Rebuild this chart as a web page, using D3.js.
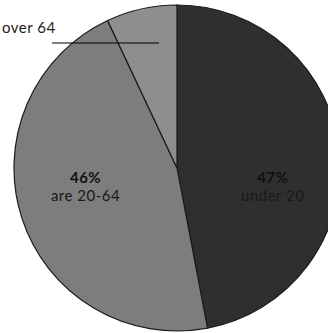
<!DOCTYPE html>
<html>
<head>
<meta charset="utf-8">
<script src="https://cdn.jsdelivr.net/npm/d3@7"></script>
<style>
  body { margin: 0; background: #fff; }
  text { font-family: Lato, "Open Sans", sans-serif; letter-spacing: 0.5px; }
</style>
</head>
<body>
<div id="wrapper"></div>
<script>
// data
const groups = ["under 20", "are 20-64", "over 64"]
const shares = [47, 46, 7]
const fills = ["#2f2f2f", "#7d7d7d", "#8e8e8e"]

const width = 328, height = 333
const cx = 177, cy = 168, radius = 163

const svg = d3.select("#wrapper").append("svg")
  .attr("width", width)
  .attr("height", height)

const pie = d3.pie().sort(null).value(d => d)
const arcs = pie(shares)

const arc = d3.arc().innerRadius(0).outerRadius(radius)
const labelArc = d3.arc().innerRadius(radius * 0.59).outerRadius(radius * 0.59)

const g = svg.append("g").attr("transform", `translate(${cx},${cy})`)

g.selectAll("path")
  .data(arcs)
  .join("path")
  .attr("d", arc)
  .attr("fill", (d, i) => fills[i])
  .attr("stroke", "#1a1a1a")
  .attr("stroke-width", 1.2)

// inside labels for the two big slices
const inside = arcs.slice(0, 2)
const labels = g.selectAll("g.lab")
  .data(inside)
  .join("g")
  .attr("class", "lab")
  .attr("transform", d => `translate(${labelArc.centroid(d)[0]},17)`)

labels.append("text")
  .attr("text-anchor", "middle")
  .attr("y", -2)
  .attr("font-size", 15)
  .attr("font-weight", "bold")
  .attr("fill", "#111")
  .text(d => d.data + "%")

labels.append("text")
  .attr("text-anchor", "middle")
  .attr("y", 16)
  .attr("font-size", 15)
  .attr("fill", "#1a1a1a")
  .text((d, i) => groups[i])

// outside label for the small slice
svg.append("text")
  .attr("x", 2)
  .attr("y", 33)
  .attr("font-size", 15)
  .attr("fill", "#222")
  .text(groups[2])

svg.append("line")
  .attr("x1", 52).attr("x2", 159)
  .attr("y1", 43).attr("y2", 43)
  .attr("stroke", "#000")
  .attr("stroke-width", 1.2)
</script>
</body>
</html>
